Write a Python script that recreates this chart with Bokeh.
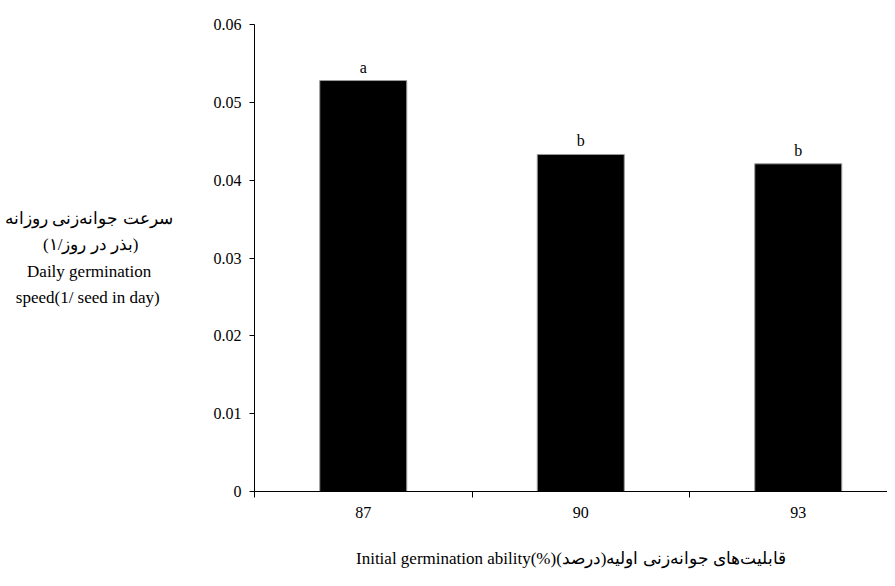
from bokeh.plotting import figure
from bokeh.models import Range1d, FixedTicker, ColumnDataSource
from bokeh.embed import file_html
from bokeh.resources import INLINE
from bokeh.core.properties import value

# ---- data ----
categories = ["87", "90", "93"]
speeds = [0.0528, 0.0433, 0.0421]
letters = ["a", "b", "b"]
y_ticks = [0, 0.01, 0.02, 0.03, 0.04, 0.05, 0.06]
y_tick_labels = ["0", "0.01", "0.02", "0.03", "0.04", "0.05", "0.06"]

y_title_lines = [
    "سرعت جوانه‌زنی روزانه",
    "(بذر در روز/۱)",
    "Daily germination",
    "speed(1/ seed in day)",
]
x_title = "Initial germination ability(%)" + "قابلیت‌های جوانه‌زنی اولیه(درصد)" + "\u200f"

# ---- layout ----
W, H = 887, 578
LEFT, TOP, BOTTOM = 254, 24, 87
frame_w = W - LEFT
cat_px = 217.5
xmax = frame_w / cat_px
YMAX = 0.06
FONT = value("Liberation Serif")

xs = [i + 0.5 for i in range(len(categories))]
src = ColumnDataSource(dict(x=xs, top=speeds, letter=letters))

p = figure(width=W, height=H, x_range=Range1d(0, xmax), y_range=Range1d(0, YMAX),
           output_backend="svg", toolbar_location=None,
           min_border_left=LEFT, min_border_right=0,
           min_border_top=TOP, min_border_bottom=BOTTOM)
p.outline_line_color = None
p.grid.visible = False
p.background_fill_color = "white"
p.border_fill_color = "white"

p.vbar(x="x", top="top", bottom=0, width=0.4, source=src,
       fill_color="black", line_color="#9a9a9a", line_width=1)
p.text(x="x", y="top", text="letter", source=src, text_font=FONT,
       text_font_size="16px", text_align="center", text_baseline="bottom",
       y_offset=-5, text_color="black")

# x axis
xa = p.xaxis[0]
xa.ticker = FixedTicker(ticks=xs, minor_ticks=list(range(len(categories) + 1)))
xa.major_label_overrides = {x: c for x, c in zip(xs, categories)}
xa.major_tick_line_color = None
xa.major_tick_out = 0
xa.major_tick_in = 0
xa.minor_tick_out = 6
xa.minor_tick_in = 0
xa.minor_tick_line_color = "black"
xa.axis_line_color = "black"
xa.major_label_standoff = 9
xa.major_label_text_font = "Liberation Serif"
xa.major_label_text_font_size = "16px"
xa.major_label_text_color = "black"
xa.axis_label = x_title
xa.axis_label_text_font = "Liberation Serif"
xa.axis_label_text_font_size = "17px"
xa.axis_label_text_font_style = "normal"
xa.axis_label_text_color = "black"
xa.axis_label_standoff = 28

# y axis
ya = p.yaxis[0]
ya.ticker = FixedTicker(ticks=y_ticks)
ya.major_label_overrides = dict(zip(y_ticks, y_tick_labels))
ya.minor_tick_line_color = None
ya.major_tick_out = 5
ya.major_tick_in = 0
ya.major_tick_line_color = "black"
ya.axis_line_color = "black"
ya.major_label_standoff = 8
ya.major_label_text_font = "Liberation Serif"
ya.major_label_text_font_size = "16px"
ya.major_label_text_color = "black"

# multi-line horizontal y title; lines padded with no-break spaces so that
# the right-aligned block looks centred
NBSP = "\u00a0"
pads = [0, 8, 5, 3]
title_lines = [line + NBSP * n for line, n in zip(y_title_lines, pads)]
ya.axis_label = "\n".join(title_lines)
ya.axis_label_orientation = "horizontal"
ya.axis_label_text_align = "center"
ya.axis_label_text_font = "Liberation Serif"
ya.axis_label_text_font_size = "17px"
ya.axis_label_text_font_style = "normal"
ya.axis_label_text_color = "black"
ya.axis_label_text_line_height = 1.4
ya.axis_label_standoff = 38

open("out.html", "w").write(file_html(p, INLINE))
